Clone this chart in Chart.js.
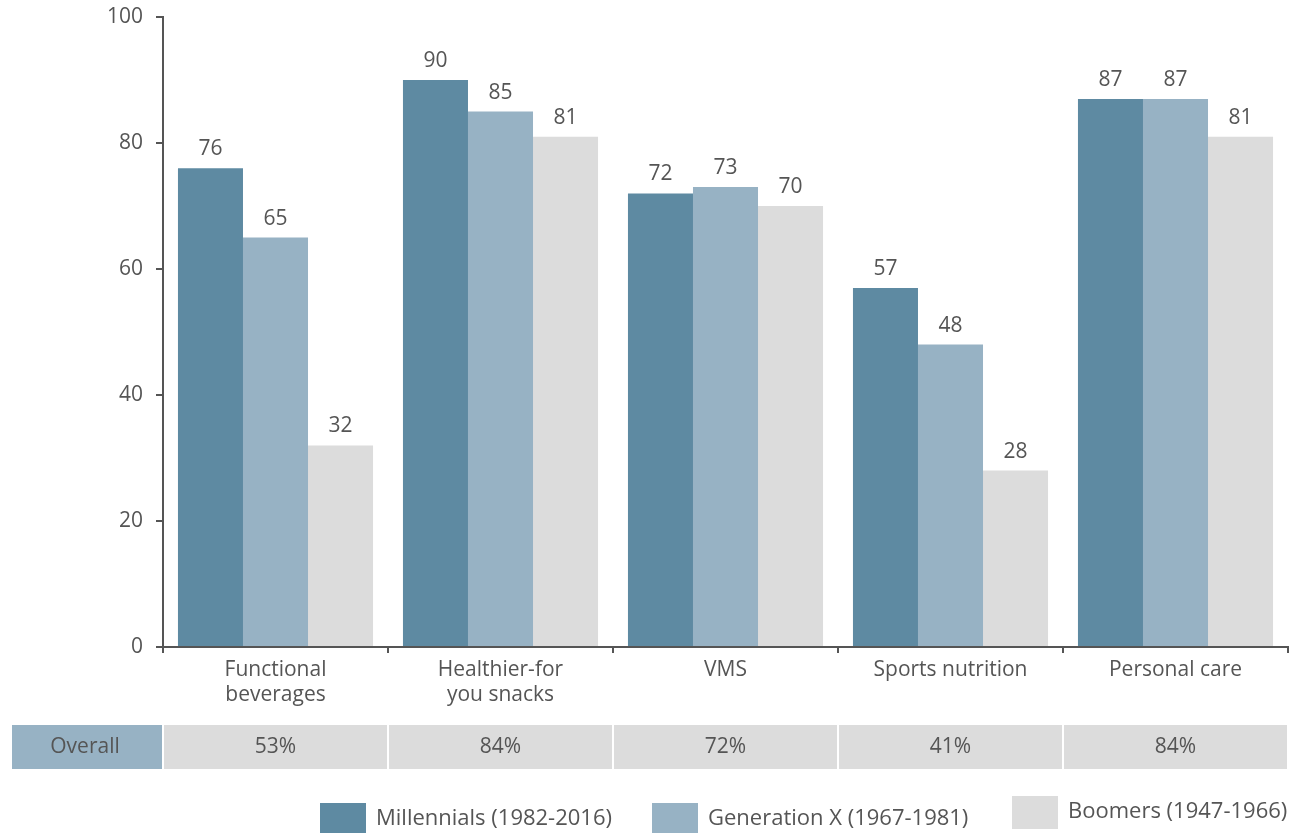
<!DOCTYPE html>
<html>
<head>
<meta charset="utf-8">
<script src="https://cdn.jsdelivr.net/npm/chart.js@4/dist/chart.umd.min.js"></script>
<style>
  html, body { margin: 0; padding: 0; background: #fff; }
  #wrap { width: 1312px; height: 833px; position: relative; }
</style>
</head>
<body>
<div id="wrap"><canvas id="barChart"></canvas></div>
<script>
const categories = [["Functional", "beverages"], ["Healthier-for", "you snacks"], "VMS", "Sports nutrition", "Personal care"];
const millennials = [76, 90, 72, 57, 87];
const genX = [65, 85, 73, 48, 87];
const boomers = [32, 81, 70, 28, 81];
const overall = ["53%", "84%", "72%", "41%", "84%"];
const yTicks = [0, 20, 40, 60, 80, 100];

const TEXT = '#555555';
const FONT = '"Open Sans", "Noto Sans", sans-serif';

// value labels over each bar
const barLabels = {
  id: 'barLabels',
  afterDatasetsDraw(chart) {
    const ctx = chart.ctx;
    ctx.save();
    ctx.fillStyle = TEXT;
    ctx.font = '21px ' + FONT;
    ctx.textAlign = 'center';
    ctx.textBaseline = 'alphabetic';
    chart.data.datasets.forEach((ds, i) => {
      chart.getDatasetMeta(i).data.forEach((bar, j) => {
        ctx.fillText(ds.data[j], bar.x, bar.y - 13);
      });
    });
    ctx.restore();
  }
};

// "Overall" row under the axis plus the legend at the bottom
const overallRow = {
  id: 'overallRow',
  afterDraw(chart) {
    const ctx = chart.ctx;
    const x = chart.scales.x;
    const top = 725, h = 44;
    ctx.save();
    ctx.font = '21px ' + FONT;
    ctx.textAlign = 'center';
    ctx.textBaseline = 'middle';
    ctx.fillStyle = '#97B2C4';
    ctx.fillRect(12, top, x.left - 13, h);
    ctx.fillStyle = TEXT;
    ctx.fillText('Overall', (12 + x.left - 1) / 2 - 2, top + h / 2);
    const step = (x.right - x.left) / overall.length;
    overall.forEach((v, i) => {
      const l = x.left + step * i;
      ctx.fillStyle = '#DCDCDC';
      ctx.fillRect(l + 1, top, step - 2, h);
      ctx.fillStyle = TEXT;
      ctx.fillText(v, l + step / 2, top + h / 2);
    });

    // legend
    const items = [
      { box: [320, 803], text: [376, 819] },
      { box: [652, 803], text: [708, 819] },
      { box: [1012, 796], text: [1068, 812] }
    ];
    ctx.font = '22px ' + FONT;
    ctx.textAlign = 'left';
    chart.data.datasets.forEach((ds, i) => {
      const it = items[i];
      ctx.fillStyle = ds.backgroundColor;
      ctx.fillRect(it.box[0], it.box[1], 46, 33);
      ctx.fillStyle = TEXT;
      ctx.fillText(ds.label, it.text[0], it.text[1]);
    });
    ctx.restore();
  }
};

new Chart(document.getElementById('barChart'), {
  type: 'bar',
  data: {
    labels: categories,
    datasets: [
      { label: 'Millennials (1982-2016)', data: millennials, backgroundColor: '#5E8AA2' },
      { label: 'Generation X (1967-1981)', data: genX, backgroundColor: '#97B2C4' },
      { label: 'Boomers (1947-1966)', data: boomers, backgroundColor: '#DCDCDC' }
    ]
  },
  options: {
    responsive: true,
    maintainAspectRatio: false,
    animation: false,
    layout: { padding: { top: 17, right: 24, left: 0, bottom: 0 } },
    datasets: { bar: { categoryPercentage: 0.867, barPercentage: 1.0 } },
    plugins: {
      legend: { display: false },
      tooltip: { enabled: false }
    },
    scales: {
      x: {
        afterFit(scale) { scale.height = 186; },
        border: { display: true, color: TEXT, width: 2 },
        grid: { drawOnChartArea: false, drawTicks: true, tickLength: 6, color: TEXT, lineWidth: 2, offset: true },
        ticks: { color: TEXT, font: { family: FONT, size: 21, lineHeight: 1.2 }, padding: 4, maxRotation: 0 }
      },
      y: {
        min: 0,
        max: 100,
        afterFit(scale) {
          scale.width = 163;
          scale.paddingTop = 0;
          scale.paddingBottom = 0;
        },
        afterBuildTicks(scale) { scale.ticks = yTicks.map(v => ({ value: v })); },
        border: { display: true, color: TEXT, width: 2 },
        grid: { drawOnChartArea: false, drawTicks: true, tickLength: 7, color: TEXT, lineWidth: 2 },
        ticks: { color: TEXT, font: { family: FONT, size: 21 }, padding: 13 }
      }
    }
  },
  plugins: [barLabels, overallRow]
});
</script>
</body>
</html>
